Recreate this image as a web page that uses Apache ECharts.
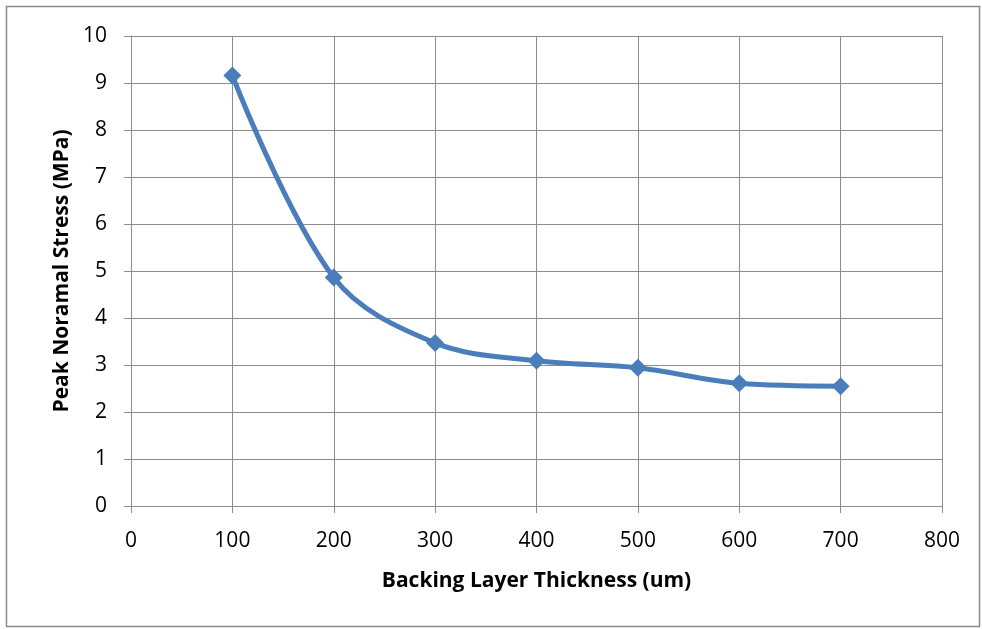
<!DOCTYPE html>
<html>
<head>
<meta charset="utf-8">
<script src="https://cdn.jsdelivr.net/npm/echarts@6/dist/echarts.min.js"></script>
<style>
  html, body { margin: 0; padding: 0; background: #fff; }
  #chart { width: 982px; height: 629px; }
</style>
</head>
<body>
<div id="chart"></div>
<script>
// Backing layer thickness (um) and peak normal stress (MPa)
const thickness = [100, 200, 300, 400, 500, 600, 700];
const peakStress = [9.16, 4.86, 3.47, 3.09, 2.94, 2.61, 2.55];

const xTitle = 'Backing Layer Thickness (um)';
const yTitle = 'Peak Noramal Stress (MPa)';

const fontFam = '"Open Sans", sans-serif';
const gridColor = '#8c8c8c';

const chart = echarts.init(document.getElementById('chart'));
chart.setOption({
  animation: false,
  graphic: [{
    type: 'rect',
    shape: { x: 6.5, y: 6.5, width: 973, height: 620 },
    style: { fill: 'none', stroke: '#8c8c8c', lineWidth: 1.5 }
  }],
  grid: { left: 131, right: 40, top: 36, bottom: 123 },
  xAxis: {
    type: 'value',
    min: 0, max: 800, interval: 100,
    name: xTitle,
    nameLocation: 'middle',
    nameGap: 65,
    nameTextStyle: { fontFamily: fontFam, fontSize: 21, fontWeight: 'bold', color: '#000' },
    axisLine: { lineStyle: { color: gridColor, width: 1 } },
    axisTick: { show: true, length: 7, lineStyle: { color: gridColor } },
    axisLabel: { fontFamily: fontFam, fontSize: 21, color: '#000', margin: 25 },
    splitLine: { show: true, lineStyle: { color: gridColor, width: 1 } }
  },
  yAxis: {
    type: 'value',
    min: 0, max: 10, interval: 1,
    name: yTitle,
    nameLocation: 'middle',
    nameGap: 58,
    nameTextStyle: { fontFamily: fontFam, fontSize: 21, fontWeight: 'bold', color: '#000' },
    axisLine: { show: true, lineStyle: { color: gridColor, width: 1 } },
    axisTick: { show: true, length: 7, lineStyle: { color: gridColor } },
    axisLabel: { fontFamily: fontFam, fontSize: 21, color: '#000', margin: 24 },
    splitLine: { show: true, lineStyle: { color: gridColor, width: 1 } }
  },
  series: [{
    type: 'line',
    data: thickness.map((t, i) => [t, peakStress[i]]),
    smooth: 0.35,
    symbol: 'diamond',
    symbolSize: 18,
    lineStyle: { color: '#4a7ebb', width: 5 },
    itemStyle: { color: '#4a7ebb' }
  }]
});
</script>
</body>
</html>
